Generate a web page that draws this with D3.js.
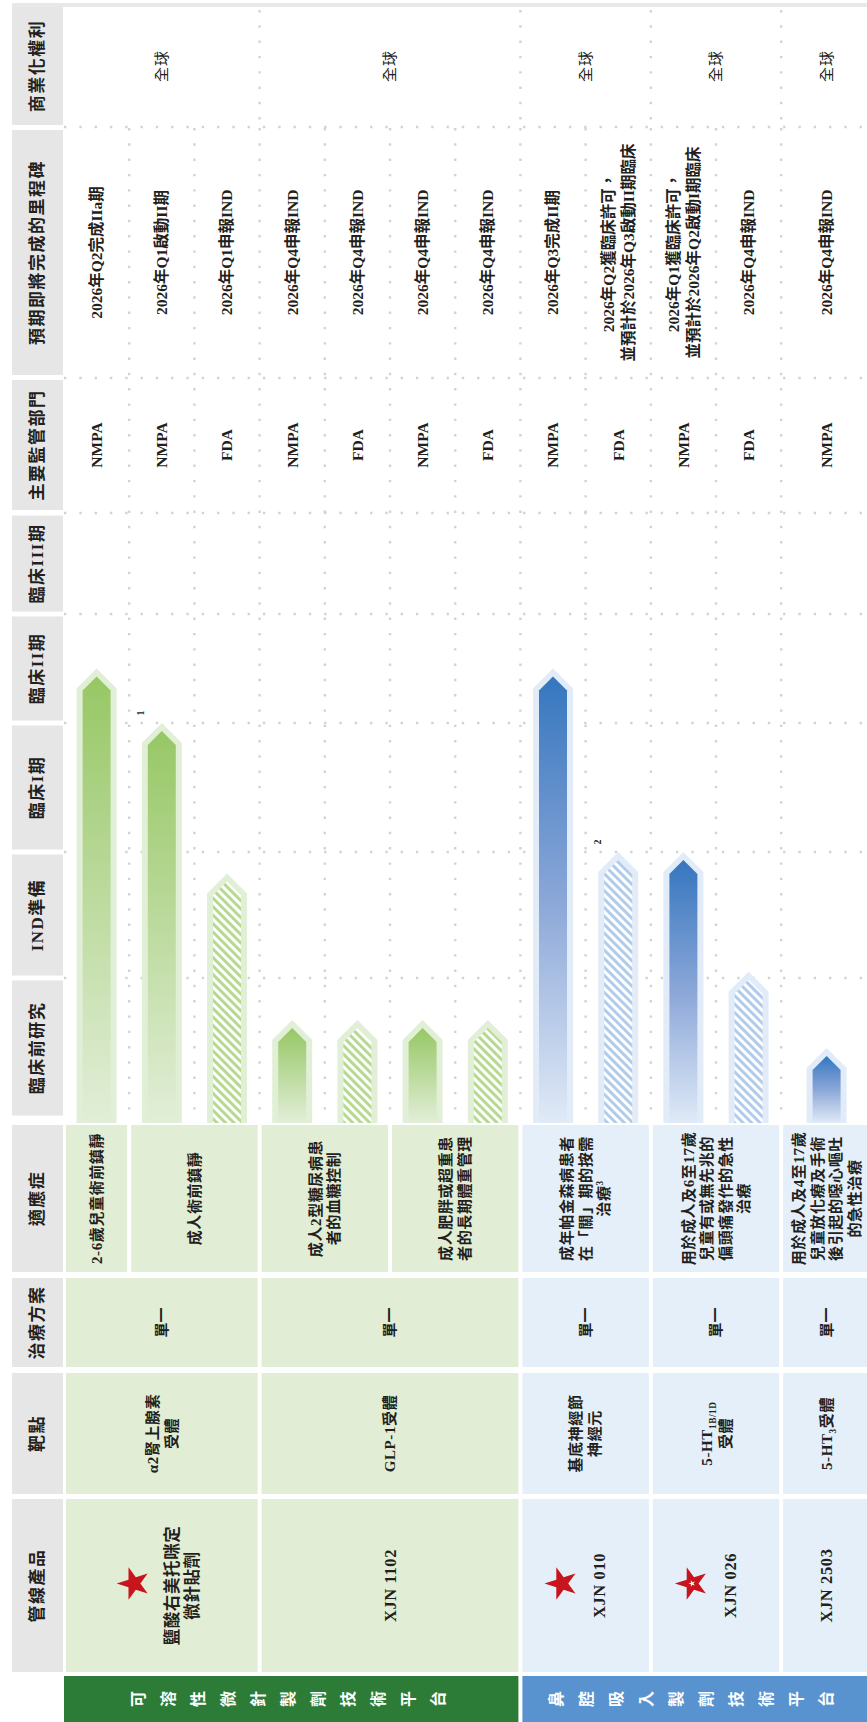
<!DOCTYPE html>
<html>
<head>
<meta charset="utf-8">
<script src="https://cdn.jsdelivr.net/npm/d3@7"></script>
<style>
body { margin: 0; background: #fff; }
svg { display: block; }
text { font-family: "Liberation Serif", "Noto Sans CJK TC", serif; fill: #231f20; }
</style>
</head>
<body>
<script>
// ---- data ----
const phases = ["臨床前研究", "IND準備", "臨床I期", "臨床II期", "臨床III期"];
const headLabels = ["商業化權利", "預期即將完成的里程碑", "主要監管部門", "適應症", "治療方案", "靶點", "管線產品"];

const products = ["鹽酸右美托咪定\n微針貼劑", "XJN 1102", "XJN 010", "XJN 026", "XJN 2503"];
const productStar = ["plain", null, "plain", "dot", null];
const targets = ["α2腎上腺素\n受體", "GLP-1受體", "基底神經節\n神經元", "5-HT_{1B/1D}\n受體", "5-HT_{3}受體"];
const treatments = ["單一", "單一", "單一", "單一", "單一"];
const rights = ["全球", "全球", "全球", "全球", "全球"];
const productPlatform = [0, 0, 1, 1, 1];
const platforms = ["可溶性微針製劑技術平台", "鼻腔吸入製劑技術平台"];

const indications = [
  "2-6歲兒童術前鎮靜",
  "成人術前鎮靜",
  "成人2型糖尿病患\n者的血糖控制",
  "成人肥胖或超重患\n者的長期體重管理",
  "成年帕金森病患者\n在「關」期的按需\n治療^{3}",
  "用於成人及6至17歲\n兒童有或無先兆的\n偏頭痛發作的急性\n治療",
  "用於成人及4至17歲\n兒童放化療及手術\n後引起的噁心嘔吐\n的急性治療"
];

// one entry per bar (row)
const rowProduct = [0, 0, 0, 1, 1, 1, 1, 2, 2, 3, 3, 4];
const rowIndication = [0, 1, 1, 2, 2, 3, 3, 4, 4, 5, 5, 6];
const progress = [3.5, 3.0, 1.83, 0.7, 0.7, 0.7, 0.7, 3.5, 2.0, 2.0, 1.05, 0.5];
const planned = [false, false, true, false, true, false, true, false, true, false, true, false];
const regulators = ["NMPA", "NMPA", "FDA", "NMPA", "FDA", "NMPA", "FDA", "NMPA", "FDA", "NMPA", "FDA", "NMPA"];
const milestones = [
  "2026年Q2完成IIa期",
  "2026年Q1啟動II期",
  "2026年Q1申報IND",
  "2026年Q4申報IND",
  "2026年Q4申報IND",
  "2026年Q4申報IND",
  "2026年Q4申報IND",
  "2026年Q3完成II期",
  "2026年Q2獲臨床許可，\n並預計於2026年Q3啟動II期臨床",
  "2026年Q1獲臨床許可，\n並預計於2026年Q2啟動I期臨床",
  "2026年Q4申報IND",
  "2026年Q4申報IND"
];
const footnotes = [null, "1", null, null, null, null, null, null, "2", null, null, null];

// ---- layout ----
const W = 867, H = 1722;
const nRows = progress.length;
const xRow = d3.scaleLinear().domain([0, nRows - 1]).range([64, 781.2]);
const edge = i => (i < nRows ? xRow(i) : W + 5);
const rowCenter = i => (edge(i) + edge(i + 1)) / 2;

// phase progress -> y (pipeline axis runs bottom to top)
const yPhase = d3.scaleLinear().domain([0, 1, 2, 3, 4, 5]).range([1118, 978, 852, 723, 614, 513]);
const barBottom = 1123;

const band = {
  rights: [7, 125], milestone: [130, 375], regulator: [380, 510],
  indication: [1125, 1272], treatment: [1278, 1367], target: [1373, 1494],
  product: [1499, 1672], platform: [1676, 1730]
};
const mid = b => (b[0] + b[1]) / 2;

const green = { tint: "#e1edd4", outer: "#e2efd7", top: "#97c765", bottom: "#e2eed8", hatch: "#b6d990", bar: "#2c7c37" };
const blue = { tint: "#e4eff9", outer: "#e1ecf8", top: "#3576bf", mid: "#8ba7d8", bottom: "#e0eaf7", hatch: "#b1cbeb", bar: "#5893cf" };
const isBlue = p => productPlatform[p] === 1;

const svg = d3.select("body").append("svg").attr("width", W).attr("height", H);
const defs = svg.append("defs");

const gg = defs.append("linearGradient").attr("id", "gradGreen").attr("x1", 0).attr("y1", 0).attr("x2", 0).attr("y2", 1);
gg.append("stop").attr("offset", 0).attr("stop-color", green.top);
gg.append("stop").attr("offset", 1).attr("stop-color", green.bottom);
const gb = defs.append("linearGradient").attr("id", "gradBlue").attr("x1", 0).attr("y1", 0).attr("x2", 0).attr("y2", 1);
gb.append("stop").attr("offset", 0).attr("stop-color", blue.top);
gb.append("stop").attr("offset", 0.5).attr("stop-color", blue.mid);
gb.append("stop").attr("offset", 1).attr("stop-color", blue.bottom);

[["hatchGreen", green.hatch], ["hatchBlue", blue.hatch]].forEach(([id, c]) => {
  const p = defs.append("pattern").attr("id", id).attr("patternUnits", "userSpaceOnUse")
    .attr("width", 6).attr("height", 6).attr("patternTransform", "rotate(-45)");
  p.append("rect").attr("width", 6).attr("height", 6).attr("fill", "#fff");
  p.append("rect").attr("width", 3).attr("height", 6).attr("fill", c);
});

// rotated (bottom-to-top) multi-line text with _{sub} and ^{sup} markup
function rotText(parent, x, y, str, o = {}) {
  const size = o.size || 15, lh = o.lh || 19;
  const lines = str.split("\n");
  const t = parent.append("text")
    .attr("transform", `translate(${x},${y}) rotate(-90)`)
    .attr("text-anchor", "middle")
    .attr("font-size", size)
    .attr("font-weight", o.weight || 700)
    .attr("letter-spacing", o.ls || 0)
    .style("fill", o.fill || "#231f20");
  lines.forEach((ln, k) => {
    const parts = ln.split(/(_\{[^}]*\}|\^\{[^}]*\})/).filter(s => s !== "");
    let shift = 0;
    parts.forEach((s, j) => {
      const ts = t.append("tspan");
      if (j === 0) ts.attr("x", 0).attr("y", (k - (lines.length - 1) / 2) * lh + size * 0.35);
      let d = 0;
      if (s.startsWith("_{")) { d = size * 0.28; s = s.slice(2, -1); ts.attr("font-size", size * 0.62); }
      else if (s.startsWith("^{")) { d = -size * 0.42; s = s.slice(2, -1); ts.attr("font-size", size * 0.62); }
      if (d - shift !== 0) ts.attr("dy", d - shift);
      shift = d;
      ts.text(s);
    });
  });
  return t;
}

// top rule
svg.append("rect").attr("x", 12).attr("y", 3).attr("width", W - 12).attr("height", 4).attr("fill", "#e8e8e8");

// header column
const headBands = [
  [headLabels[0], band.rights], [headLabels[1], band.milestone], [headLabels[2], band.regulator],
  ...phases.map((p, k) => [p, [yPhase(k + 1) + 2.5, yPhase(k) - 2.5]]),
  [headLabels[3], band.indication], [headLabels[4], band.treatment],
  [headLabels[5], band.target], [headLabels[6], band.product]
];
const head = svg.append("g");
headBands.forEach(([lab, b]) => {
  head.append("rect").attr("x", 12).attr("y", b[0]).attr("width", 51).attr("height", b[1] - b[0]).attr("fill", "#e6e6e6");
  rotText(head, 37.5, mid(b), lab, { size: 17, ls: 1.5 });
});

// dotted grid
const dot = { stroke: "#d3d3d3", "stroke-width": 2.4, "stroke-dasharray": "2.4 12.9" };
const grid = svg.append("g");
function dotted(x1, y1, x2, y2) {
  const l = grid.append("line").attr("x1", x1).attr("y1", y1).attr("x2", x2).attr("y2", y2);
  Object.entries(dot).forEach(([k, v]) => l.attr(k, v));
}
[band.rights[1] + 2, band.milestone[1] + 3, ...d3.range(1, 6).map(yPhase)].forEach(y => dotted(64, y, W, y));
const groupEdges = d3.range(1, nRows).filter(i => rowProduct[i] !== rowProduct[i - 1]);
groupEdges.forEach(i => dotted(edge(i), 10, edge(i), band.rights[1]));
d3.range(1, nRows).forEach(i => dotted(edge(i), band.milestone[0] - 2, edge(i), 1121));

// spans of consecutive rows sharing a key
function spans(keys) {
  const out = [];
  keys.forEach((k, i) => {
    if (i && keys[i - 1] === k) out[out.length - 1].b = i;
    else out.push({ key: k, a: i, b: i });
  });
  return out.map(s => ({ ...s, x0: edge(s.a), x1: edge(s.b + 1), cx: (edge(s.a) + edge(s.b + 1)) / 2 }));
}
const prodSpans = spans(rowProduct);
const indSpans = spans(rowIndication);

// upper text columns
const txt = svg.append("g");
prodSpans.forEach(s => rotText(txt, s.cx, mid(band.rights), rights[s.key], { weight: 400, ls: 1 }));
d3.range(nRows).forEach(i => {
  rotText(txt, rowCenter(i), mid(band.milestone), milestones[i], { size: 15.5, lh: 20 });
  rotText(txt, rowCenter(i), mid(band.regulator), regulators[i], { size: 15.5 });
});

// table cells
const cells = svg.append("g");
function cell(s, b, fillKey) {
  cells.append("rect").attr("x", s.x0 + 2).attr("y", b[0]).attr("width", s.x1 - s.x0 - 4)
    .attr("height", b[1] - b[0]).attr("fill", isBlue(fillKey) ? blue.tint : green.tint);
}
indSpans.forEach(s => {
  cell(s, band.indication, rowProduct[s.a]);
  rotText(cells, s.cx, mid(band.indication), indications[s.key], { size: 15, lh: 18.5, ls: 0.6 });
});
prodSpans.forEach(s => {
  cell(s, band.treatment, s.key);
  cell(s, band.target, s.key);
  cell(s, band.product, s.key);
  rotText(cells, s.cx, mid(band.treatment), treatments[s.key], { size: 15 });
  rotText(cells, s.cx, mid(band.target), targets[s.key], { size: 15, lh: 19, ls: 0.6 });
  const nl = products[s.key].split("\n").length;
  const starred = productStar[s.key] !== null;
  const tx = starred ? s.cx + (nl > 1 ? 20 : 14) : s.cx;
  rotText(cells, tx, mid(band.product), products[s.key], { size: 16.5, lh: 20, ls: 0.6 });
  if (starred) {
    const firstLine = tx - (nl - 1) * 10;
    const sg = cells.append("g").attr("transform", `translate(${firstLine - 38},${mid(band.product) - 2}) rotate(-90)`);
    sg.append("path").attr("d", d3.symbol(d3.symbolStar).size(330)()).attr("fill", "#c8141d");
    if (productStar[s.key] === "dot")
      sg.append("path").attr("d", d3.symbol(d3.symbolStar).size(14)()).attr("fill", "#fff");
  }
});

// platform bars
platforms.forEach((name, p) => {
  const ps = prodSpans.filter(s => productPlatform[s.key] === p);
  const x0 = ps[0].x0 + (p ? 2 : 0), x1 = ps[ps.length - 1].x1 - (p ? 0 : 2);
  svg.append("rect").attr("x", x0).attr("y", band.platform[0]).attr("width", x1 - x0)
    .attr("height", band.platform[1] - band.platform[0]).attr("fill", p ? blue.bar : green.bar);
  const chars = Array.from(name);
  const c = (x0 + Math.min(x1, W)) / 2 - 3;
  chars.forEach((ch, k) => {
    rotText(svg, c + (k - (chars.length - 1) / 2) * 30, 1699, ch, { size: 16, fill: "#fff" });
  });
});

// pipeline bars
const bars = svg.append("g");
d3.range(nRows).forEach(i => {
  const cx = rowCenter(i), yt = yPhase(progress[i]);
  const blueRow = isBlue(rowProduct[i]);
  bars.append("path")
    .attr("d", `M${cx - 20},${barBottom}V${yt + 20}L${cx},${yt}L${cx + 20},${yt + 20}V${barBottom}Z`)
    .attr("fill", blueRow ? blue.outer : green.outer);
  const fill = planned[i] ? (blueRow ? "url(#hatchBlue)" : "url(#hatchGreen)") : (blueRow ? "url(#gradBlue)" : "url(#gradGreen)");
  bars.append("path")
    .attr("d", `M${cx - 14},${barBottom}V${yt + 22}L${cx},${yt + 8}L${cx + 14},${yt + 22}V${barBottom}Z`)
    .attr("fill", fill);
  if (footnotes[i]) rotText(bars, cx - 21, yt - 10, footnotes[i], { size: 10 });
});
</script>
</body>
</html>
